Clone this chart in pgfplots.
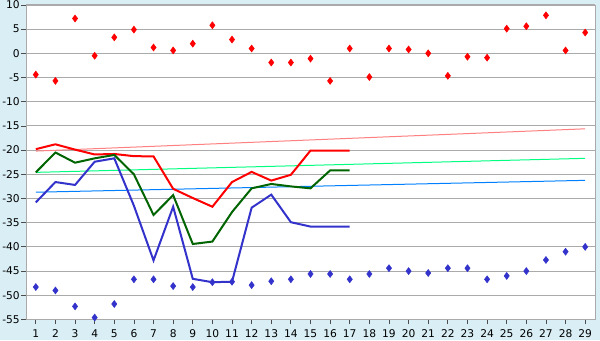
\documentclass[border=0pt]{standalone}
\usepackage{pgfplots}
\pgfplotsset{compat=1.18}
\usepackage{fontspec}
\setmainfont{DejaVu Sans}
\definecolor{bgc}{RGB}{217,238,245}
\definecolor{gridc}{RGB}{170,170,170}
\definecolor{dgreen}{RGB}{0,100,0}
\definecolor{lblue}{RGB}{51,51,204}
\definecolor{tred}{RGB}{255,128,128}
\definecolor{tgreen}{RGB}{0,255,128}
\definecolor{tblue}{RGB}{0,128,255}
\begin{document}
\begin{tikzpicture}
\fill[bgc] (0,0) rectangle (450pt,255pt);
\begin{axis}[
  at={(19.5pt,15.4pt)}, anchor=south west,
  scale only axis, width=426.75pt, height=235.9pt,
  xmin=0.5, xmax=29.5, ymin=-55, ymax=10,
  xtick={1,...,29}, ytick={-55,-50,...,10},
  axis background/.style={fill=white},
  axis line style={gridc},
  ymajorgrids, major grid style={gridc, line width=0.75pt},
  tick align=outside, tick pos=left,
  major tick length=3.5pt,
  tick style={black!70, line width=0.6pt},
  tick label style={font=\fontsize{8}{9.5}\selectfont},
  yticklabel style={inner xsep=1pt},
  /pgf/number format/assume math mode=true,
  xticklabel style={yshift=-0.5pt},
]
% scatter
\addplot[only marks, mark=diamond*, mark size=2.6pt, red, mark options={fill=red, draw=red}] coordinates {
(1,-4.4) (2,-5.7) (3,7.2) (4,-0.5) (5,3.3) (6,4.9) (7,1.2) (8,0.6) (9,2.0) (10,5.8) (11,2.85) (12,1.0) (13,-1.9) (14,-1.9) (15,-1.1) (16,-5.7) (17,1.0) (18,-4.9) (19,1.0) (20,0.8) (21,0.0) (22,-4.65) (23,-0.7) (24,-0.9) (25,5.1) (26,5.6) (27,7.85) (28,0.6) (29,4.3)};
\addplot[only marks, mark=diamond*, mark size=2.6pt, lblue, mark options={fill=lblue, draw=lblue}] coordinates {
(1,-48.3) (2,-49.0) (3,-52.3) (4,-54.6) (5,-51.8) (6,-46.7) (7,-46.7) (8,-48.1) (9,-48.3) (10,-47.3) (11,-47.2) (12,-47.9) (13,-47.1) (14,-46.7) (15,-45.6) (16,-45.6) (17,-46.7) (18,-45.6) (19,-44.4) (20,-45.0) (21,-45.4) (22,-44.4) (23,-44.4) (24,-46.7) (25,-46.0) (26,-45.0) (27,-42.7) (28,-41.0) (29,-40.0)};
% trend lines
\addplot[tred, line width=0.75pt] coordinates {(1,-20.2) (29,-15.6)};
\addplot[tgreen, line width=0.75pt] coordinates {(1,-24.6) (29,-21.7)};
\addplot[tblue, line width=0.75pt] coordinates {(1,-28.7) (29,-26.25)};
% lines
\addplot[red, line width=1.5pt] coordinates {
(1,-19.8) (2,-18.8) (3,-19.9) (4,-20.9) (5,-20.8) (6,-21.25) (7,-21.3) (8,-28.0) (9,-29.9) (10,-31.7) (11,-26.6) (12,-24.5) (13,-26.3) (14,-25.1) (15,-20.1) (16,-20.1) (17,-20.1)};
\addplot[dgreen, line width=1.5pt] coordinates {
(1,-24.6) (2,-20.5) (3,-22.6) (4,-21.7) (5,-21.0) (6,-25.0) (7,-33.4) (8,-29.3) (9,-39.4) (10,-38.9) (11,-32.8) (12,-27.9) (13,-27.0) (14,-27.5) (15,-27.9) (16,-24.2) (17,-24.2)};
\addplot[lblue, line width=1.5pt] coordinates {
(1,-30.8) (2,-26.6) (3,-27.2) (4,-22.4) (5,-21.7) (6,-31.5) (7,-42.8) (8,-31.7) (9,-46.6) (10,-47.3) (11,-47.2) (12,-31.9) (13,-29.2) (14,-34.9) (15,-35.8) (16,-35.8) (17,-35.8)};
\end{axis}
\pgfresetboundingbox
\path (0,0) rectangle (450pt,255pt);
\end{tikzpicture}
\end{document}
